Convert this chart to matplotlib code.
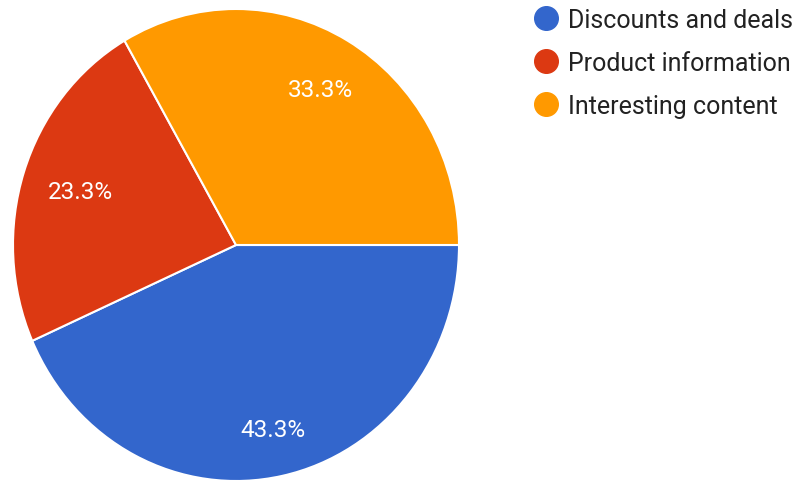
import matplotlib.pyplot as plt
from matplotlib.lines import Line2D

plt.rcParams["font.family"] = ["Roboto", "DejaVu Sans"]

categories = ["Discounts and deals", "Product information", "Interesting content"]
shares = [43.3, 23.3, 33.3]
colors = ["#3366CC", "#DC3912", "#FF9900"]

# how far out each percentage sits inside its slice (fraction of radius)
label_dist = [0.80, 0.735, 0.76]

fig = plt.figure(figsize=(7.98, 4.85), dpi=100)
W, H = 798, 485
# pie box in pixels: left, bottom, width, height
ax = fig.add_axes([13 / W, 3 / H, 446 / W, 472 / H])

wedges, _, autotexts = ax.pie(
    shares,
    colors=colors,
    startangle=0,
    counterclock=False,
    autopct="%.1f%%",
    pctdistance=0.78,
    wedgeprops=dict(edgecolor="white", linewidth=1.5),
    textprops=dict(color="white", fontsize=17.5),
)
for txt, d in zip(autotexts, label_dist):
    x, y = txt.get_position()
    r = (x ** 2 + y ** 2) ** 0.5
    txt.set_position((x * d / r, y * d / r))

ax.set_aspect("auto")
ax.set_xlim(-1, 1)
ax.set_ylim(-1, 1)
ax.axis("off")

handles = [
    Line2D([], [], linestyle="none", marker="o", markersize=17,
           markerfacecolor=c, markeredgecolor=c)
    for c in colors
]
fig.legend(
    handles,
    categories,
    loc="upper left",
    bbox_to_anchor=(533 / W, 1 - 9 / H),
    frameon=False,
    fontsize=18,
    handlelength=1.0,
    handletextpad=0.4,
    labelspacing=0.76,
    borderaxespad=0,
    borderpad=0,
    labelcolor="#222222",
)

fig.savefig("out.png", dpi=100, facecolor="white")
